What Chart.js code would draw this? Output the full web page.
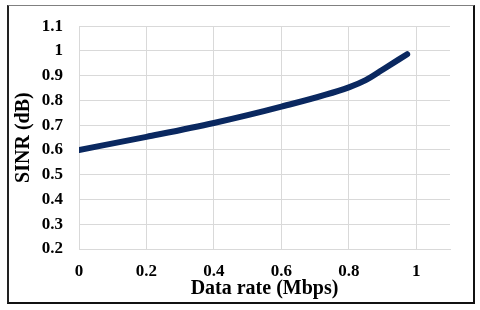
<!DOCTYPE html>
<html>
<head>
<meta charset="utf-8">
<script src="https://cdn.jsdelivr.net/npm/chart.js@4"></script>
<style>
  body { margin: 0; background: #fff; }
  #wrap { position: relative; width: 480px; height: 310px; }
  #frame {
    position: absolute; left: 7px; top: 5px; width: 464px; height: 296px;
    border-top: 1px solid #808080; border-left: 2px solid #222;
    border-right: 2px solid #111; border-bottom: 2px solid #111;
    pointer-events: none;
  }
  canvas { position: absolute; left: 0; top: 0; }
</style>
</head>
<body>
<div id="wrap">
  <canvas id="chart" width="480" height="310"></canvas>
  <div id="frame"></div>
</div>
<script>
// values
const dataRate = [0, 0.2, 0.4, 0.6, 0.8, 0.85, 0.9, 0.973];
const sinr = [0.6, 0.653, 0.709, 0.775, 0.853, 0.882, 0.924, 0.987];
const xTicks = [0, 0.2, 0.4, 0.6, 0.8, 1];

const points = dataRate.map((x, i) => ({ x: x, y: sinr[i] }));
const tickFont = { family: '"Liberation Serif", "Times New Roman", serif', size: 17, weight: 'bold' };
const titleFont = { family: '"Liberation Serif", "Times New Roman", serif', size: 20, weight: 'bold' };
const gridColor = '#d9d9d9';
const fmt = v => String(Number(v.toFixed(1)));

new Chart(document.getElementById('chart'), {
  type: 'scatter',
  data: {
    datasets: [{
      data: points,
      showLine: true,
      borderColor: '#0a2860',
      borderWidth: 6,
      borderCapStyle: 'round',
      borderJoinStyle: 'round',
      cubicInterpolationMode: 'monotone',
      pointRadius: 0
    }]
  },
  options: {
    responsive: false,
    animation: false,
    layout: { padding: { left: 9, right: 30, top: 19, bottom: 9 } },
    plugins: { legend: { display: false }, tooltip: { enabled: false } },
    scales: {
      x: {
        min: 0,
        max: 1.1,
        afterBuildTicks: scale => { scale.ticks = xTicks.map(v => ({ value: v })); },
        afterFit: scale => { scale.height = 52; },
        grid: { color: gridColor, drawTicks: false },
        border: { color: gridColor },
        ticks: { color: '#000', font: tickFont, padding: 12, callback: fmt },
        title: { display: true, text: 'Data rate (Mbps)', color: '#000', font: titleFont, padding: { top: 0, bottom: 0 } }
      },
      y: {
        min: 0.2,
        max: 1.1,
        ticks: { stepSize: 0.1, color: '#000', font: tickFont, padding: 16, callback: fmt },
        afterFit: scale => { scale.width = 70; },
        grid: { color: gridColor, drawTicks: false },
        border: { color: gridColor },
        title: { display: true, text: 'SINR (dB)', color: '#000', font: titleFont, padding: { top: 3, bottom: 3 } }
      }
    }
  }
});
</script>
</body>
</html>
